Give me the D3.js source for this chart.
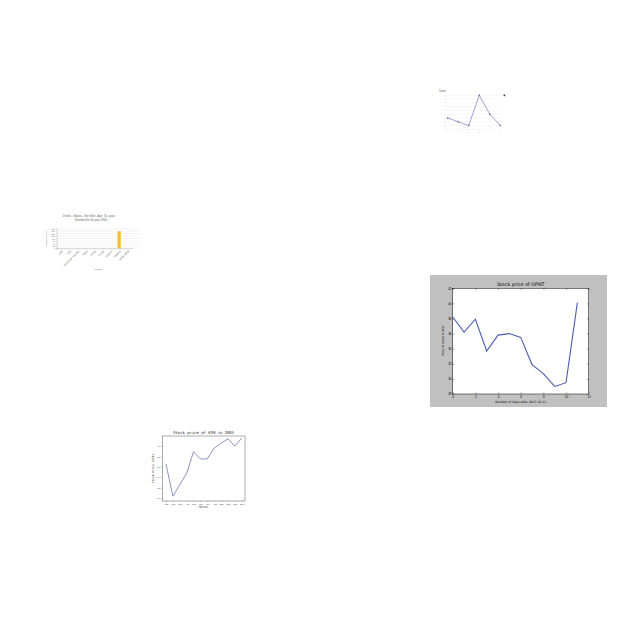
<!DOCTYPE html>
<html><head><meta charset="utf-8">
<script src="https://cdn.jsdelivr.net/npm/d3@7"></script>
<style>body{margin:0;background:#fff}svg{display:block}</style>
</head><body>
<svg id="c" width="640" height="640"></svg>
<script>
// ---- Chart A: Deaths - Malaria bar chart ----
const malariaCountries = ["Chile","Cuba","Dominican Republic","Egypt","Jordan","Kuwait","Lebanon","Malaysia","Saudi Arabia"];
const malariaValues = [0,0,0,0,0,0,0,139,0];
const malariaTicks = [0,20,40,60,80,100,120,140,160];

// ---- Chart B: Stock price of KSM in 2005 ----
const ksmMonths = ["Jan","Feb","Mar","Apr","May","Jun","Jul","Aug","Sep","Oct","Nov","Dec"];
const ksmPrices = [8.65,8.03,8.25,8.47,8.89,8.75,8.75,8.96,9.05,9.14,9.0,9.15];
const ksmTicks = [8.0,8.2,8.4,8.6,8.8,9.0];

// ---- Chart C: Score ----
const scoreX = [0,1,2,3,4,5];
const scoreValues = [3,2,1,9,4,1];
const scoreTicks = [0,1,2,3,4,5,6,7,8,9];

// ---- Chart D: Stock price of OPNT ----
const opntDays = [0,1,2,3,4,5,6,7,8,9,10,11];
const opntPrices = [38.2,36.2,37.9,33.7,35.8,36.0,35.5,31.9,30.7,29.0,29.5,40.1];
const opntYTicks = [28,30,32,34,36,38,40,42];
const opntXTicks = [0,2,4,6,8,10,12];

const svg = d3.select("#c");
svg.append("rect").attr("width",640).attr("height",640).attr("fill","#fff");

// ===== Chart A =====
(function(){
  const g = svg.append("g").attr("font-family","Liberation Sans, Arial, sans-serif");
  const left=56.7, right=132, gridRight=141, top=228.7, bottom=248.3;
  const x = d3.scaleBand().domain(malariaCountries).range([left,right]).padding(0.1);
  const y = d3.scaleLinear().domain([0,160]).range([bottom,top]);
  g.selectAll(".gl").data(malariaTicks).join("line")
    .attr("x1",left).attr("x2",gridRight)
    .attr("y1",d=>y(d)).attr("y2",d=>y(d))
    .attr("stroke","#e3e3e3").attr("stroke-width",0.4);
  const ya = g.append("g").attr("transform",`translate(${left},0)`)
    .call(d3.axisLeft(y).tickValues(malariaTicks).tickSize(1).tickPadding(0.8));
  ya.selectAll("text").attr("font-size",2.1).attr("fill","#555");
  ya.selectAll("line").attr("stroke","#bbb").attr("stroke-width",0.3);
  ya.select(".domain").attr("stroke","#888").attr("stroke-width",0.35);
  const xa = g.append("g").attr("transform",`translate(0,${bottom})`)
    .call(d3.axisBottom(x).tickSize(1).tickPadding(0.8));
  xa.select(".domain").attr("stroke","#888").attr("stroke-width",0.35);
  xa.selectAll("line").attr("stroke","#bbb").attr("stroke-width",0.3);
  xa.selectAll("text").attr("font-size",2.4).attr("fill","#666")
    .attr("text-anchor","end").attr("dy","0.3em")
    .attr("transform","translate(0,1.2) rotate(-45)");
  g.selectAll(".bar").data(malariaCountries).join("rect")
    .attr("x",d=>x(d)+x.bandwidth()/2-1.6).attr("width",3.2)
    .attr("y",(d,i)=>y(malariaValues[i])).attr("height",(d,i)=>bottom-y(malariaValues[i]))
    .attr("fill","#f7bd2a");
  g.append("text").attr("x",89).attr("y",217.3).attr("text-anchor","middle")
    .attr("font-size",2.6).attr("fill","#666").text("Deaths - Malaria - Sex: Both - Age: 70+ years");
  g.append("text").attr("x",91).attr("y",221).attr("text-anchor","middle")
    .attr("font-size",2.6).attr("fill","#666").text("(Standard for the year 1990)");
  g.append("text").attr("x",98.5).attr("y",269.5).attr("text-anchor","middle")
    .attr("font-size",2.2).attr("fill","#666").text("Country");
  g.append("text").attr("transform","translate(47,238.5) rotate(-90)").attr("text-anchor","middle")
    .attr("font-size",1.9).attr("fill","#666").text("Deaths per 100,000");
})();

// ===== Chart B =====
(function(){
  const g = svg.append("g").attr("font-family","DejaVu Sans Mono, monospace");
  const left=162.3, right=245, top=436, bottom=501;
  const x = d3.scalePoint().domain(ksmMonths).range([166,241.7]);
  const y = d3.scaleLinear().domain([8.0,9.0]).range([497.7,446]);
  g.append("rect").attr("x",left).attr("y",top).attr("width",right-left).attr("height",bottom-top)
    .attr("fill","none").attr("stroke","#333").attr("stroke-width",0.4);
  const ya = g.append("g").attr("transform",`translate(${left},0)`)
    .call(d3.axisLeft(y).tickValues(ksmTicks).tickFormat(d3.format(".1f")).tickSize(1).tickPadding(1));
  ya.select(".domain").remove();
  ya.selectAll("line").attr("stroke","#333").attr("stroke-width",0.3);
  ya.selectAll("text").attr("font-size",2.4).attr("fill","#333");
  const xa = g.append("g").attr("transform",`translate(0,${bottom})`)
    .call(d3.axisBottom(x).tickSize(1).tickPadding(0.8));
  xa.select(".domain").remove();
  xa.selectAll("line").attr("stroke","#333").attr("stroke-width",0.3);
  xa.selectAll("text").attr("font-size",2.4).attr("fill","#333");
  g.append("path").datum(ksmPrices)
    .attr("d",d3.line().x((d,i)=>x(ksmMonths[i])).y(d=>y(d)))
    .attr("fill","none").attr("stroke","#6570ab").attr("stroke-width",0.75);
  g.append("text").attr("x",203.6).attr("y",434).attr("text-anchor","middle")
    .attr("font-size",3.9).attr("fill","#222").text("Stock price of KSM in 2005");
  g.append("text").attr("x",203.6).attr("y",508).attr("text-anchor","middle")
    .attr("font-size",2.9).attr("fill","#222").text("Month");
  g.append("text").attr("transform","translate(153.5,468.5) rotate(-90)").attr("text-anchor","middle")
    .attr("font-size",2.9).attr("fill","#222").text("Stock Price (USD)");
})();

// ===== Chart C =====
(function(){
  const g = svg.append("g").attr("font-family","Liberation Sans, Arial, sans-serif");
  const x = d3.scaleLinear().domain([0,5]).range([447.7,500.3]);
  const y = d3.scaleLinear().domain([0,9]).range([129.3,95.3]);
  g.selectAll(".gl").data(scoreTicks).join("line")
    .attr("x1",446.5).attr("x2",502).attr("y1",d=>y(d)).attr("y2",d=>y(d))
    .attr("stroke","#ececec").attr("stroke-width",0.4);
  g.selectAll(".yt").data(scoreTicks).join("text")
    .attr("x",445.5).attr("y",d=>y(d)+0.6).attr("text-anchor","end")
    .attr("font-size",1.7).attr("fill","#999").text(d=>d);
  g.selectAll(".xt").data(scoreX).join("text")
    .attr("x",d=>x(d)).attr("y",132.6).attr("text-anchor","middle")
    .attr("font-size",1.7).attr("fill","#999").text(d=>d);
  g.append("path").datum(scoreValues)
    .attr("d",d3.line().x((d,i)=>x(scoreX[i])).y(d=>y(d)))
    .attr("fill","none").attr("stroke","#7c78c4").attr("stroke-width",0.7);
  g.selectAll(".pt").data(scoreValues).join("circle")
    .attr("cx",(d,i)=>x(scoreX[i])).attr("cy",d=>y(d)).attr("r",0.7).attr("fill","#4a4790");
  g.append("text").attr("x",439).attr("y",92).attr("font-size",2.6).attr("fill","#555").text("Score");
  g.append("rect").attr("x",503.6).attr("y",94.6).attr("width",1.6).attr("height",1.6).attr("fill","#23235a");
})();

// ===== Chart D =====
(function(){
  const g = svg.append("g").attr("font-family","DejaVu Sans, sans-serif");
  g.append("rect").attr("x",430).attr("y",275).attr("width",177).attr("height",132).attr("fill","#c0c0c0");
  const left=452.7, right=588.7, top=288.3, bottom=394;
  const x = d3.scaleLinear().domain([0,12]).range([left,right]);
  const y = d3.scaleLinear().domain([28,42]).range([bottom,top]);
  g.append("rect").attr("x",left).attr("y",top).attr("width",right-left).attr("height",bottom-top)
    .attr("fill","#fff").attr("stroke","#000").attr("stroke-width",0.5);
  const ya = g.append("g").attr("transform",`translate(${left},0)`)
    .call(d3.axisRight(y).tickValues(opntYTicks).tickSize(1.5).tickFormat(d3.format("d")));
  ya.select(".domain").remove();
  ya.selectAll("line").attr("stroke","#000").attr("stroke-width",0.4);
  ya.selectAll("text").attr("x",-1.2).attr("text-anchor","end").attr("font-size",3).attr("fill","#000");
  const ya2 = g.append("g").attr("transform",`translate(${right},0)`)
    .call(d3.axisLeft(y).tickValues(opntYTicks).tickSize(1.5).tickFormat(""));
  ya2.select(".domain").remove();
  ya2.selectAll("line").attr("stroke","#000").attr("stroke-width",0.4);
  const xa = g.append("g").attr("transform",`translate(0,${bottom})`)
    .call(d3.axisTop(x).tickValues(opntXTicks).tickSize(1.5).tickFormat(d3.format("d")));
  xa.select(".domain").remove();
  xa.selectAll("line").attr("stroke","#000").attr("stroke-width",0.4);
  xa.selectAll("text").attr("y",3.9).attr("dy",0).attr("font-size",3).attr("fill","#000");
  const xa2 = g.append("g").attr("transform",`translate(0,${top})`)
    .call(d3.axisBottom(x).tickValues(opntXTicks).tickSize(1.5).tickFormat(""));
  xa2.select(".domain").remove();
  xa2.selectAll("line").attr("stroke","#000").attr("stroke-width",0.4);
  g.append("path").datum(opntPrices)
    .attr("d",d3.line().x((d,i)=>x(opntDays[i])).y(d=>y(d)))
    .attr("fill","none").attr("stroke","#4a5db0").attr("stroke-width",1.1);
  g.append("text").attr("x",520.7).attr("y",286.3).attr("text-anchor","middle")
    .attr("font-size",4.8).attr("fill","#000").text("Stock price of OPNT");
  g.append("text").attr("x",520.7).attr("y",402.8).attr("text-anchor","middle")
    .attr("font-size",3).attr("fill","#000").text("Number of Days after 2017-10-11");
  g.append("text").attr("transform","translate(443.5,341) rotate(-90)").attr("text-anchor","middle")
    .attr("font-size",3).attr("fill","#000").text("Price of Stock (USD)");
})();
</script>
</body></html>
